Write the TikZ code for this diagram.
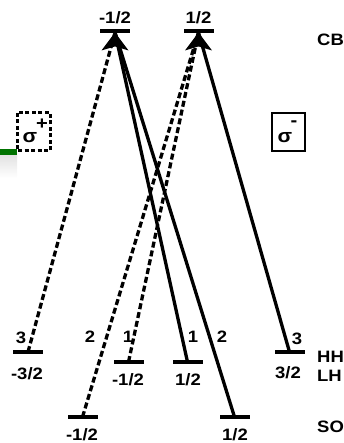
\documentclass[tikz,border=0pt]{standalone}
\usepackage{fontspec}
\setmainfont{Liberation Sans}
\usetikzlibrary{arrows.meta}
\newcommand{\tx}[1]{\scalebox{1.12}[1]{\bfseries #1}}
\tikzset{
  lbl/.style={font=\fontsize{16.5}{18}\selectfont, inner sep=0pt},
  sig/.style={font=\fontsize{19}{21}\selectfont, inner sep=0pt},
  bar/.style={fill=black, minimum width=30pt, minimum height=4.5pt, inner sep=0pt, draw=none},
  trans/.style={line width=3.3pt},
  dtrans/.style={line width=3.3pt, dash pattern=on 6pt off 3pt},
  tip/.style={fill=black},
}
\begin{document}
\begin{tikzpicture}[x=1pt,y=-1pt]
\useasboundingbox (0,0) rectangle (343,443);
% green fragment at left edge
\shade[top color=black!12, bottom color=white] (0,154) rectangle (17,178);
\fill[green!45!black] (0,149) rectangle (17,155);

% levels
\node[bar] (cbm) at (115,31) {};
\node[bar] (cbp) at (198.5,31) {};
\node[bar] (hhm) at (28,352) {};
\node[bar] (hhp) at (289.5,352) {};
\node[bar] (lhm) at (128.5,362) {};
\node[bar] (lhp) at (187.5,362) {};
\node[bar] (som) at (82.5,417) {};
\node[bar] (sop) at (234.5,417) {};

% level labels
\node[lbl] (t1) at (115,18) {\tx{-1/2}};
\node[lbl] (t2) at (198.5,18) {\tx{1/2}};
\node[lbl,anchor=west] (tcb) at (317,40) {\tx{CB}};
\node[lbl,anchor=west] (thh) at (317,357) {\tx{HH}};
\node[lbl,anchor=west] (tlh) at (317,376) {\tx{LH}};
\node[lbl,anchor=west] (tso) at (317,427) {\tx{SO}};
\node[lbl] (b1) at (27,374) {\tx{-3/2}};
\node[lbl] (b2) at (128,380) {\tx{-1/2}};
\node[lbl] (b3) at (188,380) {\tx{1/2}};
\node[lbl] (b4) at (288,373) {\tx{3/2}};
\node[lbl] (b5) at (82,435) {\tx{-1/2}};
\node[lbl] (b6) at (235,435) {\tx{1/2}};

% tip coordinates
\coordinate (tm) at ([yshift=1pt]cbm.south);
\coordinate (tp) at ([yshift=1pt]cbp.south);

% transitions sigma+
\draw[dtrans] (hhm.center) -- (tm);
\draw[dtrans] (som.center) -- (tp);
\draw[dtrans] (lhm.center) -- (tp);
% transitions sigma-
\draw[trans] (lhp.center) -- (tm);
\draw[trans] (sop.center) -- (tm);
\draw[trans] (hhp.center) -- (tp);

% arrowheads
\fill[tip] (tm) -- ++(-13.5,18) -- ++(13.5,-4) -- ++(13.5,4) -- cycle;
\fill[tip] (tp) -- ++(-13.5,18) -- ++(13.5,-4) -- ++(13.5,4) -- cycle;

% transition numbers
\node[lbl] (n1) at (21,338) {\tx{3}};
\node[lbl] (n2) at (90,337) {\tx{2}};
\node[lbl] (n3) at (128,337) {\tx{1}};
\node[lbl] (n4) at (193,337) {\tx{1}};
\node[lbl] (n5) at (222,337) {\tx{2}};
\node[lbl] (n6) at (297,339) {\tx{3}};

% polarisation boxes
\draw[line width=3pt, dash pattern=on 4pt off 2.5pt] (17,113) rectangle (50,151);
\node[sig] (sp) at (30,138) {\tx{σ}};
\node[lbl,font=\fontsize{18}{20}\selectfont] (spp) at (42,124) {\tx{+}};
\draw[line width=2.8pt] (272,113) rectangle (305,151);
\node[sig] (sm) at (285,138) {\tx{σ}};
\node[lbl,font=\fontsize{18}{20}\selectfont] (smm) at (294,124) {\tx{-}};
\end{tikzpicture}
\end{document}
